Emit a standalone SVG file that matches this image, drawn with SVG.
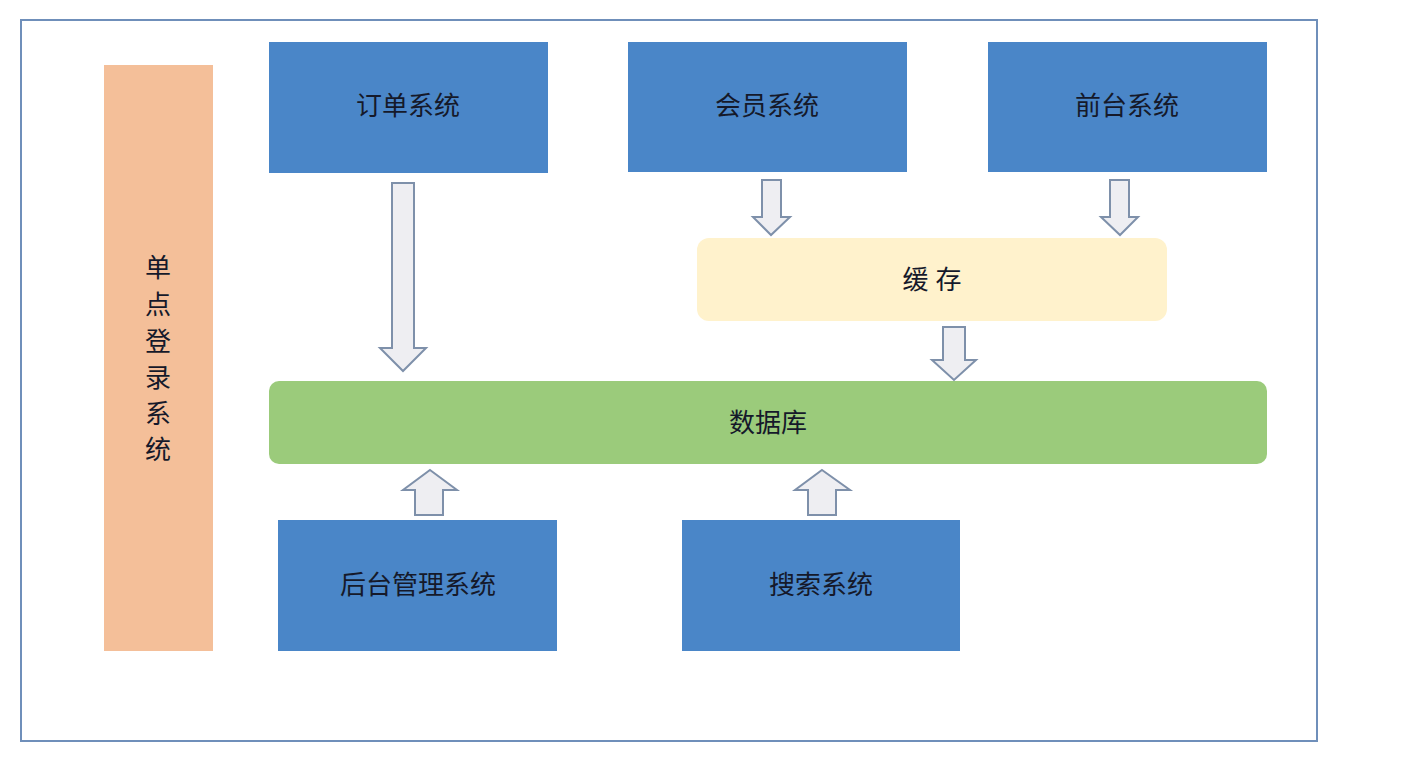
<svg xmlns="http://www.w3.org/2000/svg" width="1408" height="762" viewBox="0 0 1408 762">
<style>
.blue{fill:#4a86c8}
.t{font-family:"Liberation Sans","Noto Sans CJK SC",sans-serif;font-size:26px;fill:#15192a;text-anchor:middle;dominant-baseline:central}
.arr{fill:#eeeef2;stroke:#7e90aa;stroke-width:2;stroke-linejoin:miter}
</style>
<rect x="0" y="0" width="1408" height="762" fill="#fff"/>
<rect x="21" y="20" width="1296" height="721" fill="#fff" stroke="#6f8fba" stroke-width="2"/>
<g id="sso"><rect x="104" y="65" width="109" height="586" fill="#f4bf99"/>
<text class="t" x="158" y="268">单</text><text class="t" x="158" y="305">点</text><text class="t" x="158" y="342">登</text><text class="t" x="158" y="378">录</text><text class="t" x="158" y="414">系</text><text class="t" x="158" y="450">统</text></g>
<g id="order"><rect class="blue" x="269" y="42" width="279" height="131"/><text class="t" x="408" y="106">订单系统</text></g>
<g id="member"><rect class="blue" x="628" y="42" width="279" height="130"/><text class="t" x="767" y="106">会员系统</text></g>
<g id="front"><rect class="blue" x="988" y="42" width="279" height="130"/><text class="t" x="1127" y="106">前台系统</text></g>
<g id="cache"><rect x="697" y="238" width="470" height="83" rx="12" fill="#fff2cc"/><text class="t" x="932" y="280">缓 存</text></g>
<g id="db"><rect x="269" y="381" width="998" height="83" rx="10" fill="#9bcb7b"/><text class="t" x="768" y="423">数据库</text></g>
<g id="admin"><rect class="blue" x="278" y="520" width="279" height="131"/><text class="t" x="418" y="585">后台管理系统</text></g>
<g id="search"><rect class="blue" x="682" y="520" width="278" height="131"/><text class="t" x="821" y="585">搜索系统</text></g>
<g id="connectors">
<polygon class="arr" points="392,183 414,183 414,348 426,348 403,371 380,348 392,348"/>
<polygon class="arr" points="762,180 781,180 781,217 790,217 771,235 753,217 762,217"/>
<polygon class="arr" points="1110,180 1129,180 1129,217 1138,217 1120,235 1101,217 1110,217"/>
<polygon class="arr" points="943,327 965,327 965,360 976,360 954,380 932,360 943,360"/>
<polygon class="arr" points="430,470 457,490 443,490 443,515 415,515 415,490 403,490"/>
<polygon class="arr" points="822,470 850,490 836,490 836,515 808,515 808,490 795,490"/>
</g>
</svg>
